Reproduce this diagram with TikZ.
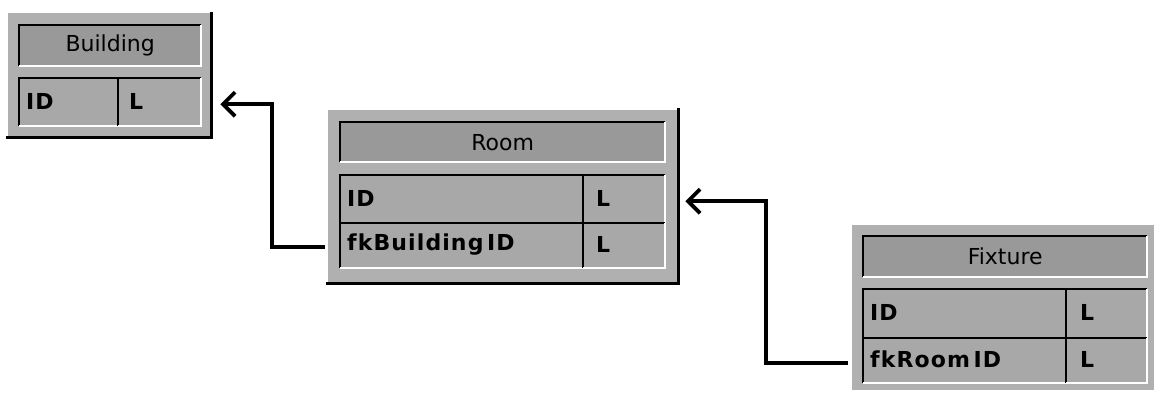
\documentclass[tikz,border=0pt]{standalone}
\usepackage{fontspec}
\setmainfont{DejaVu Sans}
\newfontfamily\fieldfont[LetterSpace=5]{DejaVu Sans Bold}
\usetikzlibrary{arrows.meta,calc}
\definecolor{framegray}{HTML}{B0B0B0}
\definecolor{cellgray}{HTML}{A8A8A8}
\definecolor{titlegray}{HTML}{999999}
\newcommand\dbcell[7]{%
  \node[cellbase,fill=#6,minimum width=#4pt,minimum height=#5pt,anchor=north west] (#1) at (#2,#3) {};
  \draw[dkline] (#1.south west) -- (#1.north west) -- (#1.north east);
  \draw[ltline] (#1.north east) -- (#1.south east) -- (#1.south west);
  #7}
\tikzset{
  framebox/.style={draw=none,fill=framegray,inner sep=0pt,anchor=north west},
  cellbase/.style={draw=none,inner sep=0pt},
  dkline/.style={black,line width=2pt},
  ltline/.style={white,line width=2pt},
  shadowline/.style={black,line width=2.5pt},
  titletext/.style={font=\fontsize{22}{24}\selectfont,inner sep=0pt},
  fieldtext/.style={font=\fieldfont\fontsize{22}{24}\selectfont,inner sep=0pt,anchor=west},
  conn/.style={black,line width=3.8pt,-{Straight Barb[length=12pt,width=24pt]}},
}
\begin{document}
\begin{tikzpicture}[x=1pt,y=-1pt]
\useasboundingbox[fill=white] (0,0) rectangle (1154,393);

% ---------- Building ----------
\node[framebox,minimum width=202pt,minimum height=123pt] (bld) at (8,13) {};
\draw[shadowline] ([xshift=1pt,yshift=1pt]bld.north east) -- ([xshift=1pt,yshift=-1pt]bld.south east) -- ([xshift=-2pt,yshift=-1pt]bld.south west);
\dbcell{btitle}{19}{25}{182}{41}{titlegray}{\node[titletext] (btitletext) at (btitle) {Building};}
\dbcell{bid}{19}{78}{99}{48}{cellgray}{\node[fieldtext] (bidtext) at ([xshift=7pt,yshift=1pt]bid.west) {ID};}
\dbcell{bidt}{118}{78}{83}{48}{cellgray}{\node[fieldtext] (bidttext) at ([xshift=11pt,yshift=1pt]bidt.west) {L};}

% ---------- Room ----------
\node[framebox,minimum width=349pt,minimum height=172pt] (room) at (328,110) {};
\draw[shadowline] ([xshift=1pt,yshift=2pt]room.north east) -- ([xshift=1pt,yshift=-1pt]room.south east) -- ([xshift=-2pt,yshift=-1pt]room.south west);
\dbcell{rtitle}{340}{122}{325}{40}{titlegray}{\node[titletext] (rtitletext) at (rtitle) {Room};}
\dbcell{rid}{340}{175}{243}{48}{cellgray}{\node[fieldtext] (ridtext) at ([xshift=7pt,yshift=1pt]rid.west) {ID};}
\dbcell{ridt}{583}{175}{82}{48}{cellgray}{\node[fieldtext] (ridttext) at ([xshift=13pt,yshift=1pt]ridt.west) {L};}
\dbcell{rfk}{340}{223}{243}{45}{cellgray}{\node[fieldtext] (rfktext) at ([xshift=7pt,yshift=1pt]rfk.west) {fkBuilding\,ID};}
\dbcell{rfkt}{583}{223}{82}{45}{cellgray}{\node[fieldtext] (rfkttext) at ([xshift=13pt,yshift=1pt]rfkt.west) {L};}

% ---------- Fixture ----------
\node[framebox,minimum width=302pt,minimum height=165pt] (fix) at (852,225) {};
\dbcell{ftitle}{863}{236}{284}{41}{titlegray}{\node[titletext] (ftitletext) at (ftitle) {Fixture};}
\dbcell{fid}{863}{289}{203}{49}{cellgray}{\node[fieldtext] (fidtext) at ([xshift=7pt,yshift=1pt]fid.west) {ID};}
\dbcell{fidt}{1066}{289}{81}{49}{cellgray}{\node[fieldtext] (fidttext) at ([xshift=14pt,yshift=1pt]fidt.west) {L};}
\dbcell{ffk}{863}{338}{203}{45}{cellgray}{\node[fieldtext] (ffktext) at ([xshift=7pt,yshift=1pt]ffk.west) {fkRoom\,ID};}
\dbcell{ffkt}{1066}{338}{81}{45}{cellgray}{\node[fieldtext] (ffkttext) at ([xshift=14pt,yshift=1pt]ffkt.west) {L};}

% ---------- Connectors ----------
\draw[conn] ([xshift=-3pt,yshift=-1.5pt]room.west |- rfk.west) -- ++(-53,0) |- ([xshift=10pt,yshift=-2pt]bld.east |- bid.east);
\draw[conn] ([xshift=-4pt,yshift=-2.5pt]fix.west |- ffk.west) -- ++(-82,0) |- ([xshift=8pt,yshift=-2pt]room.east |- rid.east);
\end{tikzpicture}
\end{document}
